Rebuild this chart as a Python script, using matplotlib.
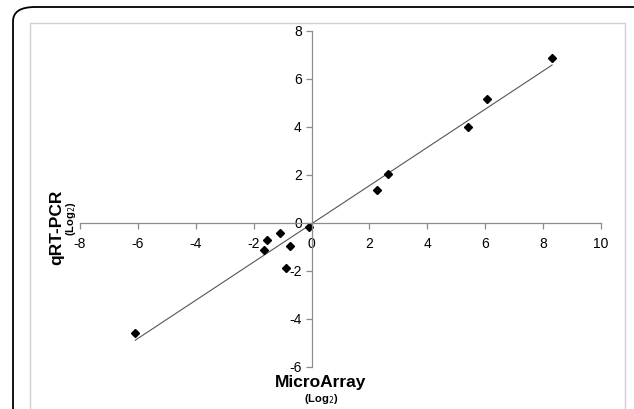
import numpy as np
import matplotlib.pyplot as plt
from matplotlib.patches import FancyBboxPatch, Rectangle

plt.rcParams['font.family'] = ['Liberation Sans', 'DejaVu Sans']

# valores (log2)
microarray = [-6.09, -1.65, -1.54, -1.08, -0.73, -0.87, -0.10, 2.25, 2.65, 5.39, 6.06, 8.31]
qrtpcr = [-4.58, -1.11, -0.72, -0.43, -0.97, -1.86, -0.15, 1.36, 2.03, 4.02, 5.17, 6.86]
xticks = [-8, -6, -4, -2, 0, 2, 4, 6, 8, 10]
yticks = [-6, -4, -2, 0, 2, 4, 6, 8]

fig = plt.figure(figsize=(6.34, 4.09), dpi=100)

# marcos exteriores
marco = FancyBboxPatch((13 / 634, -0.1), 1.2, 1.1 - 7 / 409,
                       boxstyle='round,pad=0,rounding_size=0.035',
                       transform=fig.transFigure, fill=False,
                       edgecolor='black', linewidth=1.3)
fig.patches.append(marco)
interior = Rectangle((29.5 / 634, -0.1), (625 - 29.5) / 634, 1.1 - 23 / 409,
                     transform=fig.transFigure, fill=False,
                     edgecolor='#d0d0d0', linewidth=1.0)
fig.patches.append(interior)

ax = fig.add_axes([80 / 634, 1 - 367 / 409, (601 - 80) / 634, (367 - 31) / 409])
ax.set_facecolor('none')

# linea de tendencia
m, b = np.polyfit(microarray, qrtpcr, 1)
xs = np.array([min(microarray), max(microarray)])
ax.plot(xs, m * xs + b, color='#555555', linewidth=0.8)

ax.plot(microarray, qrtpcr, linestyle='none', marker='D', markersize=3.8,
        color='black')

ax.set_xlim(-8, 10)
ax.set_ylim(-6, 8)
ax.set_xticks(xticks)
ax.set_yticks(yticks)
ax.set_xticklabels([str(t) for t in xticks])
ax.set_yticklabels([str(t) for t in yticks])

for lado in ['top', 'right']:
    ax.spines[lado].set_visible(False)
ax.spines['left'].set_position(('data', 0))
ax.spines['bottom'].set_position(('data', 0))
for lado in ['left', 'bottom']:
    ax.spines[lado].set_color('#8c8c8c')
    ax.spines[lado].set_linewidth(0.9)

ax.tick_params(axis='both', direction='out', length=4, width=0.9,
               color='#8c8c8c', labelsize=10, labelcolor='black')
ax.tick_params(axis='x', pad=6)
ax.tick_params(axis='y', pad=3)

fig.text(57 / 634, 1 - 227 / 409, 'qRT-PCR', rotation=90, fontsize=12.5,
         fontweight='bold', ha='center', va='center')
fig.text(71 / 634, 1 - 219 / 409, '(Log$_2$)', rotation=90, fontsize=8,
         fontweight='bold', ha='center', va='center')
fig.text(321 / 634, 1 - 383 / 409, 'MicroArray', fontsize=12.5,
         fontweight='bold', ha='center', va='center')
fig.text(321 / 634, 1 - 399 / 409, '(Log$_2$)', fontsize=8,
         fontweight='bold', ha='center', va='center')

fig.savefig('out.png', dpi=100)
